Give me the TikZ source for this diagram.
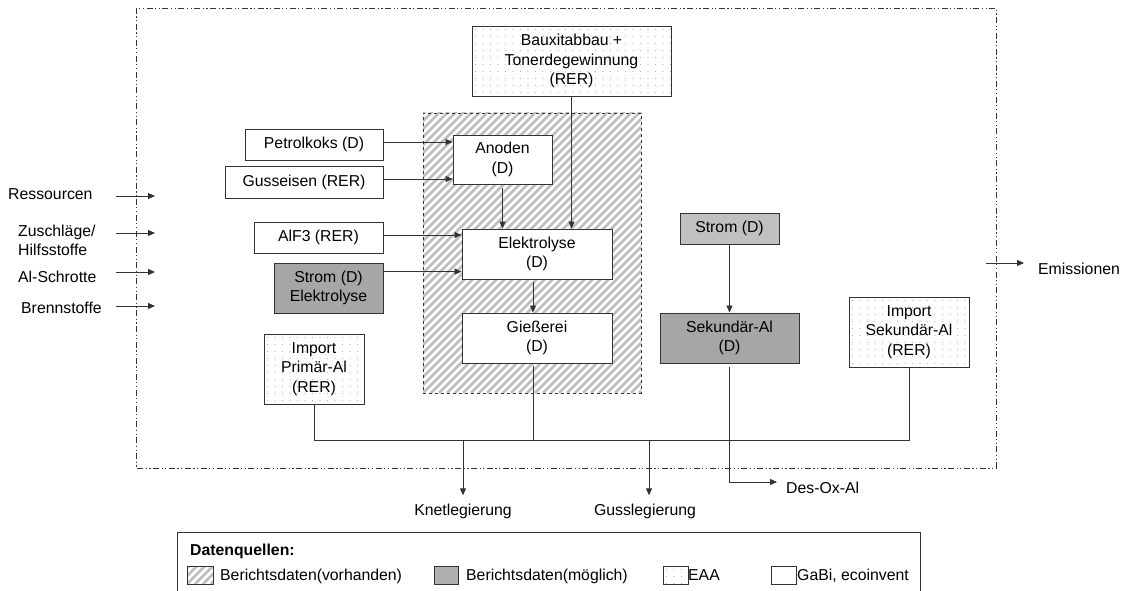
\documentclass[tikz,border=0pt]{standalone}
\usepackage{fontspec}
\setmainfont{Liberation Sans}
\usetikzlibrary{arrows.meta}
\definecolor{lineC}{HTML}{333333}
\definecolor{gDark}{HTML}{A6A6A6}
\definecolor{gLight}{HTML}{C0C0C0}
\definecolor{gLeg}{HTML}{B0B0B0}
\definecolor{dotC}{HTML}{B5B5B5}
\definecolor{hatchC}{HTML}{BEBEBE}
\begin{document}
\begin{tikzpicture}[x=1pt,y=-1pt,
  font=\fontsize{15.8}{19.5}\selectfont,
  box/.style={draw=lineC, line width=0.9pt, fill=white, inner sep=0pt, align=center},
  graybox/.style={box, fill=#1},
  dotfill/.style={path picture={
    \foreach \i in {0,...,27}{\foreach \j in {0,...,10}{
      \fill[dotC] ([shift={(\i*7.5pt+3.5pt,-\j*7pt-3.5pt)}]path picture bounding box.north west) circle[radius=0.7pt];}}}},
  dotbox/.style={box, dotfill},
  hatchfill/.style={path picture={
    \foreach \i in {-40,...,30}{
      \draw[hatchC, solid, line width=2.8pt] ([xshift=\i*8pt]path picture bounding box.south west) -- ++(320pt,320pt);}}},
  lbl/.style={inner sep=0pt},
  conn/.style={draw=lineC, line width=0.85pt},
  arr/.style={conn, -{Triangle[length=7pt,width=6pt]}},
  outer/.style={draw=lineC, line width=0.8pt, dash pattern=on 6pt off 2.5pt on 1.2pt off 2.5pt on 1.2pt off 2.5pt}
]
\useasboundingbox (0,0) rectangle (1125,591);

% system boundary
\draw[outer] (136,8) rectangle (996,468);

% hatched region (Berichtsdaten vorhanden)
\node[draw=lineC, dashed, line width=0.8pt, inner sep=0pt, minimum width=218pt, minimum height=280pt, hatchfill] (hatch) at (532,253) {};

% boxes
\node[dotbox, minimum width=199pt, minimum height=70pt] (baux) at (571.5,61) {Bauxitabbau +\\Tonerdegewinnung\\(RER)};
\node[box, minimum width=138pt, minimum height=31pt] (petrol) at (314,144.5) {Petrolkoks (D)};
\node[box, minimum width=158pt, minimum height=32pt] (guss) at (304,182) {Gusseisen (RER)};
\node[box, minimum width=129pt, minimum height=31pt] (alf) at (318.5,237.5) {AlF3 (RER)};
\node[graybox=gDark, minimum width=109pt, minimum height=50pt] (stromE) at (328.5,288) {Strom (D)\\Elektrolyse};
\node[dotbox, minimum width=100pt, minimum height=70pt] (impP) at (314,369) {Import\\Primär-Al\\(RER)};
\node[box, minimum width=99pt, minimum height=49pt] (anoden) at (502.5,159.5) {Anoden\\(D)};
\node[box, minimum width=150pt, minimum height=50pt] (elek) at (537,254) {Elektrolyse\\(D)};
\node[box, minimum width=150pt, minimum height=50pt] (giess) at (537,338) {Gießerei\\(D)};
\node[graybox=gLight, minimum width=99pt, minimum height=31pt] (strom) at (729.5,228.5) {Strom (D)};
\node[graybox=gDark, minimum width=139pt, minimum height=50pt] (sek) at (729.5,338) {Sekundär-Al\\(D)};
\node[dotbox, minimum width=120pt, minimum height=70pt] (impS) at (909,332) {Import\\Sekundär-Al\\(RER)};

% left labels and arrows
\node[lbl, anchor=base west] (res) at (8,200) {Ressourcen};
\node[lbl, anchor=base west] (zus1) at (18,236) {Zuschläge/};
\node[lbl, anchor=base west] (zus2) at (18,255) {Hilfsstoffe};
\node[lbl, anchor=base west] (als) at (18,282) {Al-Schrotte};
\node[lbl, anchor=base west] (bre) at (21,313) {Brennstoffe};
\coordinate (a1) at (116,196); \coordinate (b1) at (155,196);
\coordinate (a2) at (116,233); \coordinate (b2) at (155,233);
\coordinate (a3) at (116,272); \coordinate (b3) at (155,272);
\coordinate (a4) at (116,306); \coordinate (b4) at (155,306);
\draw[arr] (a1) -- (b1);
\draw[arr] (a2) -- (b2);
\draw[arr] (a3) -- (b3);
\draw[arr] (a4) -- (b4);

% emissions
\node[lbl, anchor=base west] (emi) at (1038,274) {Emissionen};
\coordinate (e1) at (986,263); \coordinate (e2) at (1024,263);
\draw[arr] (e1) -- (e2);

% inputs to anodes / electrolysis
\coordinate (p1) at ([yshift=2.5pt]petrol.east);
\draw[arr] (p1) -- (anoden.west |- p1);
\coordinate (g1) at ([yshift=3pt]guss.east);
\draw[arr] (g1) -- (anoden.west |- g1);
\coordinate (f1) at ([yshift=2.5pt]alf.east);
\draw[arr] (f1) -- (elek.west |- f1);
\coordinate (s1) at ([yshift=-9pt]stromE.north east);
\draw[arr] (s1) -- (elek.west |- s1);
\draw[arr] ([yshift=-4pt]anoden.south) -- (anoden.south |- elek.north);
\draw[arr] (baux.south) -- (baux.south |- elek.north);
\draw[arr] ([xshift=-4pt,yshift=-3pt]elek.south) -- ([xshift=-4pt]giess.north);

% secondary
\draw[arr] (strom.south) -- (sek.north);

% collecting line
\coordinate (bus) at (0,440);
\draw[conn] (impP.south) |- (impS.south |- bus) -- (impS.south);
\draw[conn] ([xshift=-4pt,yshift=-3pt]giess.south) -- ([xshift=-4pt]giess.south |- bus);

% products
\node[lbl, anchor=base] (knet) at (463,515) {Knetlegierung};
\node[lbl, anchor=base] (gussl) at (645,515) {Gusslegierung};
\draw[arr] (knet.north |- bus) -- ([yshift=8pt]knet.north);
\draw[arr] ([xshift=4pt]gussl.north |- bus) -- ([xshift=4pt,yshift=8pt]gussl.north);
\node[lbl, anchor=base west] (desox) at (786,493) {Des-Ox-Al};
\coordinate (dx) at (777,482);
\draw[arr] ([yshift=-4pt]sek.south) |- (dx);

% legend
\draw[lineC, line width=0.9pt] (177,596) -- (177,532) -- (920,532) -- (920,596);
\node[lbl, anchor=base west, font=\fontsize{15.8}{19.5}\selectfont\bfseries] (dq) at (190,555) {Datenquellen:};
\node[draw=lineC, line width=0.8pt, inner sep=0pt, minimum width=26pt, minimum height=18pt, hatchfill] (sw1) at (200,575) {};
\node[graybox=gLeg, minimum width=24pt, minimum height=18pt] (sw2) at (446,575) {};
\node[dotbox, minimum width=25pt, minimum height=18pt] (sw3) at (675.5,575) {};
\node[box, minimum width=25pt, minimum height=18pt] (sw4) at (783.5,575) {};
\node[lbl, anchor=base west] (l1) at (220,580) {Berichtsdaten(vorhanden)};
\node[lbl, anchor=base west] (l2) at (466,580) {Berichtsdaten(möglich)};
\node[lbl, anchor=base west] (l3) at (688,580) {EAA};
\node[lbl, anchor=base west] (l4) at (797,580) {GaBi, ecoinvent};
\end{tikzpicture}
\end{document}
